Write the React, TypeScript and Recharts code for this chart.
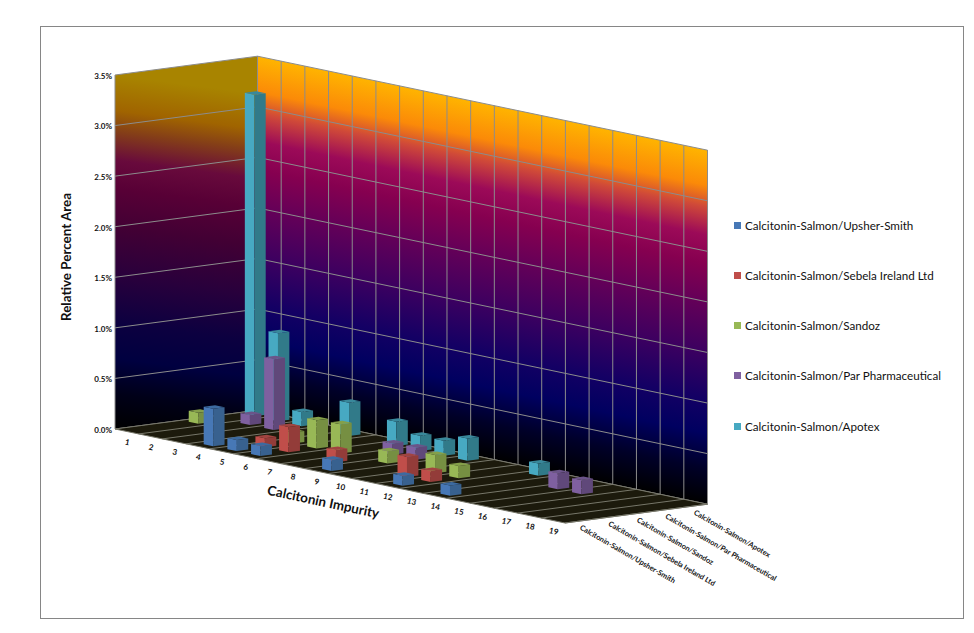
import React from "react";
import { ScatterChart, Scatter, XAxis, YAxis, ReferenceArea, Legend } from "recharts";

// ---- data -------------------------------------------------------------
const impurities = ["1","2","3","4","5","6","7","8","9","10","11","12","13","14","15","16","17","18","19"];
const seriesNames = [
  "Calcitonin-Salmon/Upsher-Smith",
  "Calcitonin-Salmon/Sebela Ireland Ltd",
  "Calcitonin-Salmon/Sandoz",
  "Calcitonin-Salmon/Par Pharmaceutical",
  "Calcitonin-Salmon/Apotex",
];
const upsherSmith = [0,0,0,0.37,0.11,0.10,0,0,0.11,0,0,0.10,0,0.10,0,0,0,0,0];
const sebela =      [0,0,0,0,0.09,0.25,0,0.12,0,0,0.20,0.11,0,0,0,0,0,0,0];
const sandoz =      [0.11,0,0,0,0.11,0.28,0.29,0,0.12,0,0.18,0.12,0,0,0,0,0,0,0];
const parPharma =   [0,0.10,0.70,0,0,0,0,0.11,0.12,0,0,0,0,0,0.16,0.14,0,0,0];
const apotex =      [3.18,0.87,0.14,0,0.33,0,0.24,0.15,0.15,0.22,0,0,0.12,0,0,0,0,0,0];
const valueTicks = [0,0.5,1,1.5,2,2.5,3,3.5];

// ---- styling ----------------------------------------------------------
const faces = [
  { front: "#4778b6", side: "#38618f", top: "#3c6aa0" },
  { front: "#c04e4a", side: "#933c39", top: "#a14440" },
  { front: "#98b856", side: "#768f42", top: "#849f4a" },
  { front: "#7f60a0", side: "#60487a", top: "#6b5489" },
  { front: "#47a9c2", side: "#317a89", top: "#39889b" },
];
const backStops: [number, string][] = [
  [0, "#ffb400"], [0.1, "#fb8a08"], [0.16, "#d04a38"], [0.24, "#9c0a58"], [0.32, "#860050"],
  [0.43, "#640058"], [0.57, "#3c0060"], [0.7, "#140064"], [0.8, "#000060"], [0.9, "#000028"], [1, "#000000"],
];
const leftStops: [number, string][] = [
  [0, "#a88400"], [0.1, "#a06400"], [0.16, "#843e18"], [0.24, "#680a3c"], [0.32, "#580036"],
  [0.43, "#420034"], [0.57, "#28003c"], [0.7, "#0c0040"], [0.8, "#000040"], [0.9, "#000018"], [1, "#000000"],
];
const FONT = "Lato, 'Open Sans', sans-serif";
const LEFT = 115, RIGHT = 565, TOP = 75, BOTTOM = 429;
const N_CAT = impurities.length, N_SER = seriesNames.length;
// oblique projection: how the depth axis and the category axis shear the picture
const DEPTH_X = 142.5 / N_SER, DEPTH_Y = -18.8 / N_SER, CAT_SLOPE = 94 / 450;
const BAR_DEPTH_X = 28.05, BAR_OFFSET_X = 2.2, BAR_W = 0.4;

const rows = (vals: number[]) =>
  vals.map((v, i) => ({ pos: i + 0.5, value: v })).filter((d) => d.value > 0);

const poly = (pts: number[][]) => pts.map((p) => p.join(",")).join(" ");

const makeBar = (serie: number) => (props: any) => {
  const { cx, cy } = props;
  const c = faces[serie];
  const catStep = (RIGHT - LEFT) / N_CAT;
  const h = BOTTOM - cy;
  const b = serie + 0.5;
  const X = cx + BAR_OFFSET_X + BAR_DEPTH_X * b;
  const Y = BOTTOM + (cx - LEFT) * CAT_SLOPE + DEPTH_Y * b;
  const dcx = (BAR_W / 2) * catStep, dcy = dcx * CAT_SLOPE;
  const dsx = (BAR_W / 2) * DEPTH_X, dsy = (BAR_W / 2) * DEPTH_Y;
  const fl = [X - dcx - dsx, Y - dcy - dsy];
  const fr = [X + dcx - dsx, Y + dcy - dsy];
  const br = [X + dcx + dsx, Y + dcy + dsy];
  const bl = [X - dcx + dsx, Y - dcy + dsy];
  const up = (p: number[]) => [p[0], p[1] - h];
  return (
    <g>
      <polygon points={poly([fl, fr, up(fr), up(fl)])} fill={c.front} />
      <polygon points={poly([fr, br, up(br), up(fr)])} fill={c.side} />
      <polygon points={poly([up(fl), up(fr), up(br), up(bl)])} fill={c.top} />
    </g>
  );
};

const Walls = (props: any) => {
  const { x, y, width, height } = props;
  const dx = DEPTH_X * N_SER, dy = DEPTH_Y * N_SER;
  const fall = width * CAT_SLOPE;
  const backTL = [x + dx, y + dy], backBL = [x + dx, y + height + dy];
  const backTR = [x + width + dx, y + fall + dy], backBR = [x + width + dx, y + height + fall + dy];
  const frontBR = [x + width, y + height + fall];
  const stepC = width / N_CAT;
  // gradient vectors perpendicular to the top edges, so the bands follow each wall
  const backN = [-fall, width];
  const backLen = (height * width) / (width * width + fall * fall);
  const leftN = [dy, dx];
  const leftLen = (height * dx) / (dx * dx + dy * dy);
  const grid = "#8c8c8c";
  const floorLine = "#77776a";
  return (
    <g>
      <rect x={40.5} y={26.5} width={923} height={592} fill="none" stroke="#868686" />
      <defs>
        <linearGradient id="backGrad" gradientUnits="userSpaceOnUse"
          x1={backTL[0]} y1={backTL[1]} x2={backTL[0] + backN[0] * backLen} y2={backTL[1] + backN[1] * backLen}>
          {backStops.map(([o, c]) => <stop key={o} offset={o} stopColor={c} />)}
        </linearGradient>
        <linearGradient id="leftGrad" gradientUnits="userSpaceOnUse"
          x1={x} y1={y} x2={x + leftN[0] * leftLen} y2={y + leftN[1] * leftLen}>
          {leftStops.map(([o, c]) => <stop key={o} offset={o} stopColor={c} />)}
        </linearGradient>
      </defs>
      <polygon points={poly([backTL, backTR, backBR, backBL])} fill="url(#backGrad)" stroke={grid} />
      <polygon points={poly([[x, y], backTL, backBL, [x, y + height]])} fill="url(#leftGrad)" stroke={grid} />
      <polygon points={poly([[x, y + height], frontBR, backBR, backBL])} fill="#1c1a0c" stroke={floorLine} />
      {valueTicks.slice(1, -1).map((t) => {
        const py = y + height - (t / 3.5) * height;
        return (
          <g key={t} stroke={grid} strokeWidth={1}>
            <line x1={x} y1={py} x2={x + dx} y2={py + dy} />
            <line x1={x + dx} y1={py + dy} x2={x + width + dx} y2={py + dy + fall} />
          </g>
        );
      })}
      {impurities.map((_, i) => {
        const px = x + stepC * (i + 1), drop = stepC * (i + 1) * CAT_SLOPE;
        return (
          <g key={i} strokeWidth={1}>
            <line stroke={grid} x1={px + dx} y1={y + drop + dy} x2={px + dx} y2={y + height + drop + dy} />
            <line stroke={floorLine} x1={px} y1={y + height + drop} x2={px + dx} y2={y + height + drop + dy} />
          </g>
        );
      })}
      {seriesNames.map((name, j) => {
        const b = j + 0.5;
        const tx = frontBR[0] + DEPTH_X * b, ty = frontBR[1] + DEPTH_Y * b + 8;
        return (
          <text key={name} x={tx} y={ty} fontFamily={FONT} fontSize={7.4} fontWeight={700} fill="#111"
            transform={`rotate(30 ${tx} ${ty})`}>{name}</text>
        );
      })}
    </g>
  );
};

const CatTick = (props: any) => {
  const { x, payload } = props;
  const tx = x, ty = BOTTOM + (x - LEFT) * CAT_SLOPE + 13.5;
  return (
    <text x={tx} y={ty} textAnchor="middle" fontFamily={FONT} fontSize={8} fontWeight={700} fill="#111"
      transform={`rotate(12 ${tx} ${ty})`}>{impurities[Math.round(payload.value - 0.5)]}</text>
  );
};

const XTitle = () => (
  <text x={323} y={503} textAnchor="middle" dominantBaseline="middle" fontFamily={FONT} fontSize={13.4} fontWeight={700} fill="#111"
    transform="rotate(12 323 503)">Calcitonin Impurity</text>
);
const YTitle = () => (
  <text x={68} y={257} textAnchor="middle" dominantBaseline="middle" fontFamily={FONT} fontSize={13.4} fontWeight={700} fill="#111"
    transform="rotate(-90 68 257)">Relative Percent Area</text>
);

const LegendBox = (props: any) => {
  const items = [...(props.payload || [])].sort(
    (a: any, b: any) => seriesNames.indexOf(a.value) - seriesNames.indexOf(b.value)
  );
  return (
    <div style={{ fontFamily: FONT, fontSize: 11.65, color: "#111" }}>
      {items.map((it: any) => (
        <div key={it.value} style={{ height: 50.25, display: "flex", alignItems: "center", whiteSpace: "nowrap" }}>
          <span style={{ width: 7, height: 7, background: it.color, marginRight: 4, display: "inline-block" }} />
          {it.value}
        </div>
      ))}
    </div>
  );
};

const allSeries = [upsherSmith, sebela, sandoz, parPharma, apotex];
const drawOrder = [4, 3, 2, 1, 0];

export default function App() {
  return (
    <div style={{ position: "absolute", left: 0, top: 0, width: 974, height: 633, background: "#fff" }}>
      <ScatterChart width={974} height={633} margin={{ top: TOP, left: 40, right: 974 - RIGHT, bottom: 174 }}>
        <XAxis type="number" dataKey="pos" domain={[0, N_CAT]} ticks={impurities.map((_, i) => i + 0.5)} interval={0}
          height={30} axisLine={false} tickLine={false} tick={<CatTick />} label={XTitle} />
        <YAxis type="number" dataKey="value" domain={[0, 3.5]} ticks={valueTicks} interval={0} width={LEFT - 40}
          axisLine={false} tickLine={false} tickMargin={-3} dy={1}
          tickFormatter={(v: number) => `${v.toFixed(1)}%`}
          tick={{ fontFamily: FONT, fontSize: 8, fontWeight: 700, fill: "#111" }} label={YTitle} />
        <ReferenceArea x1={0} x2={N_CAT} y1={0} y2={3.5} ifOverflow="visible" shape={<Walls />} />
        {drawOrder.map((j) => (
          <Scatter key={j} name={seriesNames[j]} data={rows(allSeries[j])} fill={faces[j].front}
            isAnimationActive={false} shape={makeBar(j)} />
        ))}
        <Legend layout="vertical" align="center" verticalAlign="middle" content={<LegendBox />}
          wrapperStyle={{ left: 734, top: 200, width: 235, height: 252 }} />
      </ScatterChart>
    </div>
  );
}
